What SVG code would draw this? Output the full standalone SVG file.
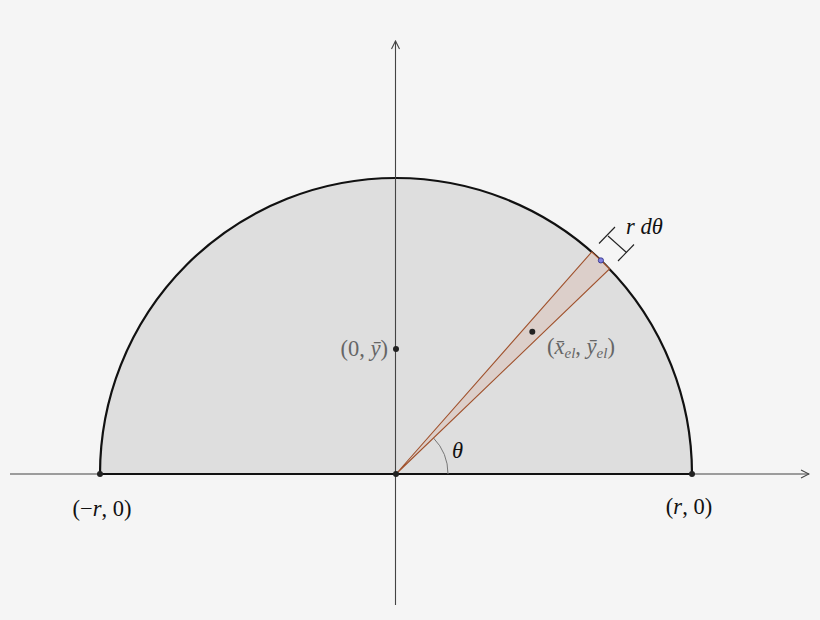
<svg xmlns="http://www.w3.org/2000/svg" width="820" height="620" viewBox="0 0 820 620">
<defs>
<style>
.axis{stroke:#444;stroke-width:1.1;fill:none}
.math{font-family:"Liberation Serif","DejaVu Serif",serif;font-size:22.5px;fill:#111}
.grey{fill:#666}
.it{font-style:italic}
.dot{fill:#222}
</style>
<marker id="arr" viewBox="0 0 10 10" refX="9" refY="5" markerWidth="10" markerHeight="10" markerUnits="userSpaceOnUse" orient="auto">
<path d="M1 1 L9 5 L1 9" fill="none" stroke="#444" stroke-width="1.1"/>
</marker>
</defs>
<rect width="820" height="620" fill="#f5f5f5"/>
<g id="region">
<path d="M100 474 A296 296 0 0 1 692 474 Z" fill="#dedede" stroke="#111" stroke-width="2.2"/>
</g>
<g id="connectors">
<line class="axis" x1="10" y1="474" x2="809" y2="474" marker-end="url(#arr)"/>
<line class="axis" x1="395.5" y1="605" x2="395.5" y2="41" marker-end="url(#arr)"/>
<line x1="100" y1="474" x2="692" y2="474" stroke="#111" stroke-width="2.2"/>
<path d="M448 474 A52 52 0 0 0 433.4 437.9" fill="none" stroke="#777" stroke-width="1"/>
<g stroke="#222" stroke-width="1.1">
<line x1="608" y1="236" x2="626.5" y2="252.5"/>
<line x1="599" y1="243.5" x2="615" y2="227"/>
<line x1="618" y1="261" x2="634" y2="244.5"/>
</g>
</g>
<g id="wedge">
<path d="M396 474 L609.5 269 A296 296 0 0 0 591.7 252 Z" fill="#dccfca" stroke="#a0522d" stroke-width="1.1"/>
</g>
<g id="points">
<circle class="dot" cx="100" cy="474" r="3"/>
<circle class="dot" cx="692" cy="474" r="3"/>
<circle class="dot" cx="396" cy="474" r="3"/>
<circle class="dot" cx="396" cy="349" r="3"/>
<circle class="dot" cx="532.3" cy="331.8" r="3"/>
<circle cx="600.9" cy="260.4" r="2.6" fill="#8080e0" stroke="#2a2a80" stroke-width="0.8"/>
</g>
<g id="labels">
<text class="math" x="102" y="516" text-anchor="middle">(−<tspan class="it">r</tspan>, 0)</text>
<text class="math" x="689" y="514" text-anchor="middle">(<tspan class="it">r</tspan>, 0)</text>
<text class="math it" x="452" y="458">θ</text>
<text class="math" x="626" y="234"><tspan class="it">r</tspan> <tspan class="it">dθ</tspan></text>
<text class="math grey" x="388" y="356" text-anchor="end">(0, <tspan class="it">ȳ</tspan>)</text>
<text class="math grey" x="547" y="354">(<tspan class="it">x̄</tspan><tspan class="it" font-size="15" dy="4">el</tspan><tspan dy="-4">, </tspan><tspan class="it">ȳ</tspan><tspan class="it" font-size="15" dy="4">el</tspan><tspan dy="-4">)</tspan></text>
</g>
</svg>
